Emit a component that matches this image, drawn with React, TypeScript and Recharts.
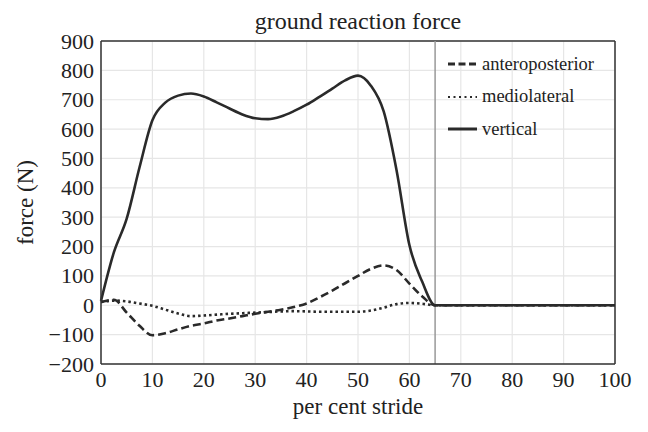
import {
  LineChart,
  Line,
  XAxis,
  YAxis,
  CartesianGrid,
  ReferenceLine,
} from "recharts";

// per cent stride sample points
const STRIDE = [
  0, 2.5, 5, 7.5, 10, 12.5, 15, 17.5, 20, 22.5, 25, 27.5, 30, 32.5, 35, 37.5,
  40, 42.5, 45, 47.5, 50, 52.5, 55, 57.5, 60, 62.5, 65, 70, 80, 90, 100,
];

const VERTICAL = [
  15, 180, 295, 470, 630, 690, 714, 721, 711, 691, 670, 650, 637, 634, 643,
  661, 683, 710, 738, 766, 782, 748, 660, 460, 205, 80, 0, 0, 0, 0, 0,
];

const ANTEROPOSTERIOR = [
  11, 19, -25, -70, -102, -95, -82, -70, -62, -52, -45, -37, -29, -22, -15,
  -6, 6, 27, 50, 75, 100, 124, 136, 120, 74, 30, 0, 0, 0, 0, 0,
];

const MEDIOLATERAL = [
  11, 16, 13, 6, -2, -15, -28, -37, -35, -32, -29, -27, -25, -23, -21, -20,
  -21, -22, -22, -22, -22, -18, -8, 4, 8, 5, 0, 0, 0, 0, 0,
];

const X_TICKS = [0, 10, 20, 30, 40, 50, 60, 70, 80, 90, 100];
const Y_TICKS = [-200, -100, 0, 100, 200, 300, 400, 500, 600, 700, 800, 900];

const SERIES = [
  { key: "anteroposterior", dash: "7 3.5", width: 3 },
  { key: "mediolateral", dash: "2 3.5", width: 2 },
  { key: "vertical", dash: undefined, width: 3 },
];

const data = STRIDE.map((x, i) => ({
  x,
  vertical: VERTICAL[i],
  anteroposterior: ANTEROPOSTERIOR[i],
  mediolateral: MEDIOLATERAL[i],
}));

const FONT = "'Liberation Serif', 'Times New Roman', serif";
const INK = "#222";
const LINE = "#2a2a2a";

function minus(v: number) {
  return String(v).replace("-", "\u2212");
}

function XTick({ x, y, payload }: any) {
  return (
    <text
      x={x}
      y={y + 16}
      textAnchor="middle"
      style={{ fontFamily: FONT, fontSize: 22, fill: INK }}
    >
      {payload.value}
    </text>
  );
}

function YTick({ x, y, payload }: any) {
  return (
    <text
      x={x}
      y={y + 7.5}
      textAnchor="end"
      style={{ fontFamily: FONT, fontSize: 22, fill: INK }}
    >
      {minus(payload.value)}
    </text>
  );
}

function LegendBox() {
  return (
    <div
      style={{
        position: "absolute",
        left: 446,
        top: 48,
        fontFamily: FONT,
        fontSize: 18.5,
        color: INK,
      }}
    >
      {SERIES.map((s) => (
        <div
          key={s.key}
          style={{ display: "flex", alignItems: "center", height: 32.5 }}
        >
          <svg width={34} height={10}>
            <line
              x1={2}
              x2={31}
              y1={5}
              y2={5}
              stroke={LINE}
              strokeWidth={s.width}
              strokeDasharray={s.dash}
            />
          </svg>
          <span style={{ marginLeft: 2, fontFamily: FONT }}>{s.key}</span>
        </div>
      ))}
    </div>
  );
}

export default function App() {
  return (
    <div
      style={{
        position: "absolute",
        left: 0,
        top: 0,
        width: 648,
        height: 432,
        background: "#fff",
        fontFamily: FONT,
      }}
    >
      <div
        style={{
          position: "absolute",
          left: 101,
          width: 514,
          top: 9,
          textAlign: "center",
          fontSize: 24,
          lineHeight: 1,
          color: INK,
        }}
      >
        ground reaction force
      </div>
      <LineChart
        width={648}
        height={432}
        data={data}
        margin={{ top: 41, right: 33, bottom: 16, left: 0 }}
      >
        <CartesianGrid stroke="#e6e6e6" strokeWidth={1.2} />
        <XAxis
          dataKey="x"
          type="number"
          domain={[0, 100]}
          ticks={X_TICKS}
          interval={0}
          tick={<XTick />}
          tickLine={false}
          tickSize={0}
          tickMargin={7}
          height={52}
          axisLine={{ stroke: "#333", strokeWidth: 1.5 }}
          label={{
            value: "per cent stride",
            position: "insideBottom",
            offset: 2,
            style: { fill: INK, fontSize: 23, fontFamily: FONT },
          }}
        />
        <YAxis
          type="number"
          domain={[-200, 900]}
          ticks={Y_TICKS}
          interval={0}
          tick={<YTick />}
          tickLine={false}
          tickSize={0}
          tickMargin={7}
          width={101}
          axisLine={{ stroke: "#333", strokeWidth: 1.5 }}
          label={{
            value: "force (N)",
            position: "insideLeft",
            angle: -90,
            offset: 25,
            style: {
              fill: INK,
              fontSize: 23,
              fontFamily: FONT,
              textAnchor: "middle",
            },
          }}
        />
        <ReferenceLine y={900} stroke="#333" strokeWidth={1.5} />
        <ReferenceLine x={100} stroke="#333" strokeWidth={1.5} />
        <ReferenceLine x={65} stroke="#999" strokeWidth={1.5} />
        <Line
          type="monotone"
          dataKey="mediolateral"
          stroke={LINE}
          strokeWidth={2.6}
          strokeDasharray="2.5 3"
          dot={false}
          isAnimationActive={false}
        />
        <Line
          type="monotone"
          dataKey="anteroposterior"
          stroke={LINE}
          strokeWidth={2.6}
          strokeDasharray="8 4"
          dot={false}
          isAnimationActive={false}
        />
        <Line
          type="monotone"
          dataKey="vertical"
          stroke={LINE}
          strokeWidth={2.6}
          dot={false}
          isAnimationActive={false}
        />
      </LineChart>
      <LegendBox />
    </div>
  );
}
